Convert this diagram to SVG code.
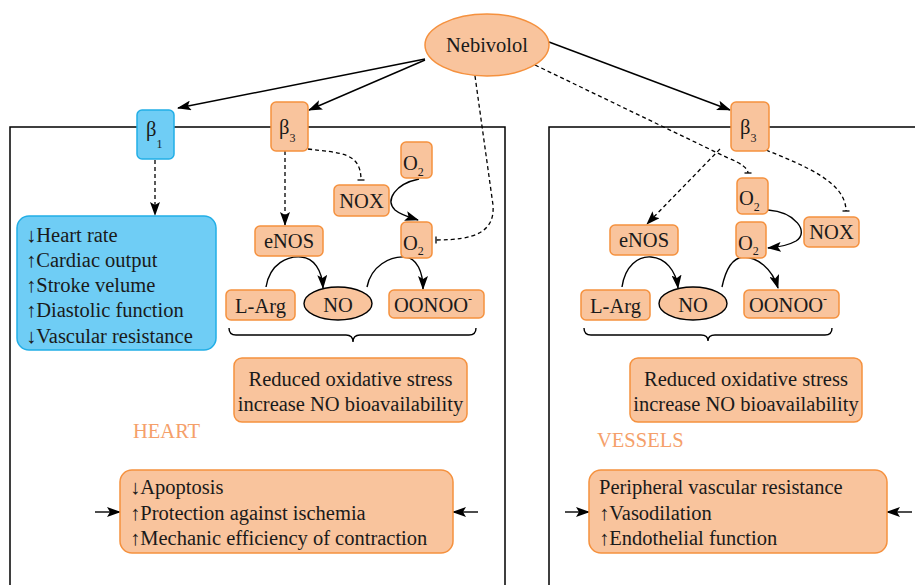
<svg xmlns="http://www.w3.org/2000/svg" width="915" height="585" viewBox="0 0 915 585" font-family="'Liberation Serif','Times New Roman',serif">
<style>
text{font-family:"Liberation Serif","Times New Roman",serif;font-size:20.5px;fill:#1a1a1a}
.or{fill:#f9c49d;stroke:#f5913e;stroke-width:1.5}
.bl{fill:#6fcdf5;stroke:#22aee6;stroke-width:1.5}
.ln{fill:none;stroke:#000;stroke-width:1.4}
.ds{fill:none;stroke:#000;stroke-width:1.3;stroke-dasharray:4 3}
.pn{fill:none;stroke:#000;stroke-width:1.5}
.mid{text-anchor:middle}
.sub{font-size:12px}
.lab{fill:#f5a06a}
</style>
<defs>
<marker id="ah" viewBox="0 0 14 10" refX="13" refY="5" markerWidth="14" markerHeight="10" markerUnits="userSpaceOnUse" orient="auto">
<path d="M0,0 L14,5 L0,10 L3,5 z" fill="#000"/>
</marker>
<marker id="tb" viewBox="-2 -4 4 8" refX="0" refY="0" markerWidth="4" markerHeight="8" markerUnits="userSpaceOnUse" orient="auto">
<path d="M0,-3.5 L0,3.5" stroke="#000" stroke-width="1.3" fill="none"/>
</marker>
</defs>

<g id="panels">
<path class="pn" d="M10,585 L10,127 L505,127 L505,585"/>
<path class="pn" d="M549,585 L549,127 L915,127"/>
</g>

<g id="connectors">
<line class="ln" x1="425" y1="59" x2="178" y2="108" marker-end="url(#ah)"/>
<line class="ln" x1="425" y1="60" x2="309" y2="110" marker-end="url(#ah)"/>
<line class="ln" x1="549" y1="42" x2="730" y2="110" marker-end="url(#ah)"/>
<path class="ds" d="M475,76 L493,205 C495,232 475,240 436,240" marker-end="url(#tb)"/>
<path class="ds" d="M535,65 L728,158 Q748,166 748,173" marker-end="url(#tb)"/>
<line class="ds" x1="155" y1="160" x2="155" y2="215" marker-end="url(#ah)"/>
<line class="ds" x1="285" y1="151" x2="285" y2="225" marker-end="url(#ah)"/>
<path class="ds" d="M308,149 C340,153 361,152 361,180" marker-end="url(#tb)"/>
<path class="ln" d="M419,179 C395,184 385,200 395,210 C401,215 409,217 418,220" marker-end="url(#ah)"/>
<path class="ln" d="M266,287 C270,263 288,256 301,257 C314,258 322,270 323,288" marker-end="url(#ah)"/>
<path class="ln" d="M367,287 C371,266 390,256 405,257 C417,258 423,272 423,289" marker-end="url(#ah)"/>
<path class="ln" d="M229,328 Q229,335 236,335 L346,335 Q353,335 353,342 Q353,335 360,335 L469,335 Q476,335 476,328"/>
<line class="ds" x1="720" y1="149" x2="647" y2="224" marker-end="url(#ah)"/>
<path class="ds" d="M766,150 C805,166 846,182 846,211" marker-end="url(#tb)"/>
<path class="ln" d="M768,210 C795,212 810,232 796,241 C789,245 780,247 768,248" marker-end="url(#ah)"/>
<path class="ln" d="M622,287 C625,266 638,256 651,257 C665,258 676,270 678,288" marker-end="url(#ah)"/>
<path class="ln" d="M722,287 C726,268 733,258 743,257 C757,257 772,268 778,288" marker-end="url(#ah)"/>
<path class="ln" d="M584,328 Q584,335 591,335 L701,335 Q708,335 708,341 Q708,335 715,335 L825,335 Q832,335 832,328"/>
<line class="ln" x1="95" y1="512" x2="120" y2="512" marker-end="url(#ah)"/>
<line class="ln" x1="478" y1="512" x2="453" y2="512" marker-end="url(#ah)"/>
<line class="ln" x1="565" y1="512" x2="589" y2="512" marker-end="url(#ah)"/>
<line class="ln" x1="912" y1="512" x2="887" y2="512" marker-end="url(#ah)"/>
</g>

<g id="nebivolol">
<ellipse class="or" cx="487" cy="45" rx="62" ry="31"/>
<text class="mid" x="487" y="52">Nebivolol</text>
</g>

<g id="beta1">
<rect class="bl" x="137" y="110" width="37" height="49" rx="5"/>
<text x="146" y="136">β<tspan class="sub" dy="12">1</tspan></text>
</g>
<g id="beta3-heart">
<rect class="or" x="271" y="102" width="37" height="49" rx="5"/>
<text x="279" y="134">β<tspan class="sub" dy="8">3</tspan></text>
</g>
<g id="beta3-vessels">
<rect class="or" x="731" y="102" width="38" height="49" rx="5"/>
<text x="740" y="134">β<tspan class="sub" dy="8">3</tspan></text>
</g>

<g id="heart-effects">
<rect class="bl" x="17" y="216" width="199" height="134" rx="12"/>
<text x="26" y="242">↓Heart rate</text>
<text x="26" y="267">↑Cardiac output</text>
<text x="26" y="292">↑Stroke velume</text>
<text x="26" y="317">↑Diastolic function</text>
<text x="26" y="343">↓Vascular resistance</text>
</g>

<g id="enos-heart">
<rect class="or" x="255" y="226" width="68" height="30" rx="5"/>
<text class="mid" x="289" y="248">eNOS</text>
</g>
<g id="larg-heart">
<rect class="or" x="226" y="290" width="69" height="30" rx="5"/>
<text class="mid" x="260.5" y="313">L-Arg</text>
</g>
<g id="no-heart">
<ellipse cx="338" cy="303.5" rx="34" ry="16.5" fill="#f9c49d" stroke="#000" stroke-width="1.4"/>
<text class="mid" x="338" y="312">NO</text>
</g>
<g id="oonoo-heart">
<rect class="or" x="389" y="290" width="95" height="28" rx="5"/>
<text x="394" y="312">OONOO<tspan class="sub" dy="-9">-</tspan></text>
</g>
<g id="nox-heart">
<rect class="or" x="334" y="185" width="55" height="31" rx="5"/>
<text class="mid" x="361.5" y="208">NOX</text>
</g>
<g id="o2a-heart">
<rect class="or" x="401" y="142" width="31" height="36" rx="5"/>
<text x="403" y="170">O<tspan class="sub" dy="6">2</tspan></text>
</g>
<g id="o2b-heart">
<rect class="or" x="401" y="222" width="31" height="36" rx="5"/>
<text x="403" y="250">O<tspan class="sub" dy="5">2</tspan></text>
</g>

<g id="result-heart">
<rect class="or" x="234" y="358" width="233" height="64" rx="8"/>
<text class="mid" x="350.5" y="386">Reduced oxidative stress</text>
<text class="mid" x="350.5" y="411">increase NO bioavailability</text>
</g>
<g id="label-heart">
<text class="lab" x="133" y="438">HEART</text>
</g>
<g id="outcome-heart">
<rect class="or" x="120" y="470" width="333" height="83" rx="12"/>
<text x="130" y="494">↓Apoptosis</text>
<text x="130" y="520">↑Protection against ischemia</text>
<text x="130" y="545">↑Mechanic efficiency of contraction</text>
</g>

<g id="enos-vessels">
<rect class="or" x="610" y="225" width="68" height="30" rx="5"/>
<text class="mid" x="644" y="247">eNOS</text>
</g>
<g id="larg-vessels">
<rect class="or" x="581" y="290" width="69" height="30" rx="5"/>
<text class="mid" x="615.5" y="313">L-Arg</text>
</g>
<g id="no-vessels">
<ellipse cx="693" cy="303.5" rx="34" ry="16.5" fill="#f9c49d" stroke="#000" stroke-width="1.4"/>
<text class="mid" x="693" y="312">NO</text>
</g>
<g id="oonoo-vessels">
<rect class="or" x="744" y="290" width="95" height="28" rx="5"/>
<text x="749" y="312">OONOO<tspan class="sub" dy="-9">-</tspan></text>
</g>
<g id="o2a-vessels">
<rect class="or" x="737" y="178" width="31" height="36" rx="5"/>
<text x="739" y="205">O<tspan class="sub" dy="6">2</tspan></text>
</g>
<g id="o2b-vessels">
<rect class="or" x="736" y="222" width="30" height="36" rx="5"/>
<text x="738" y="250">O<tspan class="sub" dy="5">2</tspan></text>
</g>
<g id="nox-vessels">
<rect class="or" x="804" y="217" width="55" height="30" rx="5"/>
<text class="mid" x="831.5" y="239">NOX</text>
</g>

<g id="result-vessels">
<rect class="or" x="630" y="358" width="232" height="64" rx="8"/>
<text class="mid" x="746" y="386">Reduced oxidative stress</text>
<text class="mid" x="746" y="411">increase NO bioavailability</text>
</g>
<g id="label-vessels">
<text class="lab" x="597" y="447">VESSELS</text>
</g>
<g id="outcome-vessels">
<rect class="or" x="589" y="470" width="298" height="83" rx="12"/>
<text x="599" y="494">Peripheral vascular resistance</text>
<text x="599" y="520">↑Vasodilation</text>
<text x="599" y="545">↑Endothelial function</text>
</g>
</svg>
